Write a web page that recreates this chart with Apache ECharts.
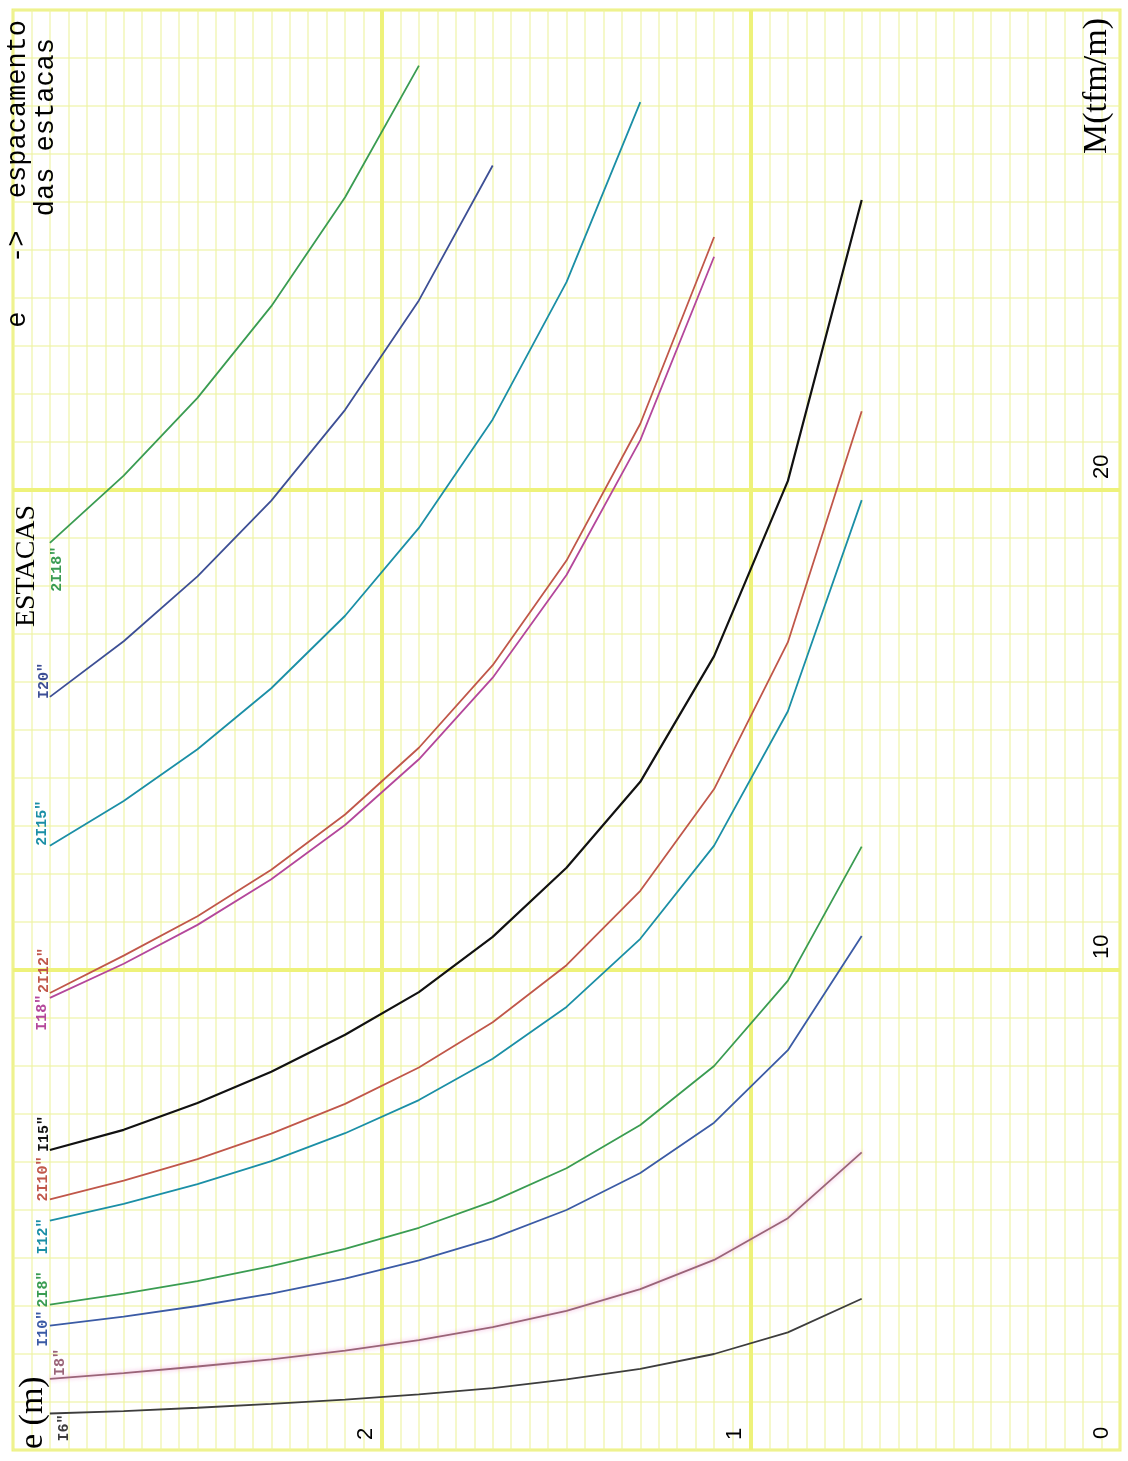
<!DOCTYPE html>
<html><head><meta charset="utf-8">
<script src="https://cdn.jsdelivr.net/npm/echarts/dist/echarts.min.js"></script>
<style>html,body{margin:0;padding:0;background:#fff}#c{width:1128px;height:1461px}</style>
</head><body><div id="c"></div><script>
// spacing e (m) at the polyline vertices
const eValues = [2.9, 2.7, 2.5, 2.3, 2.1, 1.9, 1.7, 1.5, 1.3, 1.1, 0.9, 0.7];
const seriesNames = ['I6"', 'I8"', 'I10"', '2I8"', 'I12"', '2I10"', 'I15"', 'I18"', '2I12"', '2I15"', 'I20"', '2I18"'];
// M (tfm/m) at each vertex
const m_I6   = [0.76, 0.81, 0.88, 0.96, 1.05, 1.16, 1.29, 1.47, 1.69, 2.0, 2.45, 3.15];
const m_I8   = [1.48, 1.6, 1.74, 1.89, 2.07, 2.29, 2.56, 2.9, 3.35, 3.96, 4.83, 6.2];
const m_I10  = [2.59, 2.78, 3.0, 3.26, 3.57, 3.95, 4.41, 5.0, 5.77, 6.82, 8.33, 10.71];
const m_2I8  = [3.03, 3.26, 3.52, 3.83, 4.19, 4.63, 5.18, 5.87, 6.77, 8.0, 9.78, 12.57];
const m_I12  = [4.78, 5.13, 5.54, 6.02, 6.6, 7.29, 8.15, 9.23, 10.65, 12.59, 15.39, 19.79];
const m_2I10 = [5.22, 5.61, 6.06, 6.59, 7.21, 7.97, 8.91, 10.1, 11.65, 13.77, 16.83, 21.64];
const m_I15  = [6.25, 6.67, 7.23, 7.88, 8.65, 9.54, 10.69, 12.13, 13.92, 16.54, 20.19, 26.04];
const m_I18  = [9.42, 10.13, 10.94, 11.89, 13.02, 14.39, 16.09, 18.23, 21.04, 24.86];
const m_2I12 = [9.52, 10.3, 11.12, 12.09, 13.24, 14.63, 16.35, 18.53, 21.38, 25.27];
const m_2I15 = [12.59, 13.52, 14.6, 15.87, 17.38, 19.21, 21.47, 24.33, 28.08];
const m_I20  = [15.69, 16.85, 18.2, 19.78, 21.67, 23.95, 26.76];
const m_2I18 = [18.9, 20.3, 21.92, 23.83, 26.1, 28.84];
const mSeries = [m_I6, m_I8, m_I10, m_2I8, m_I12, m_2I10, m_I15, m_I18, m_2I12, m_2I15, m_I20, m_2I18];
const eTickLabels = [1, 2];
const mTickLabels = [0, 10, 20];
const majorE = [1, 2];
const majorM = [10, 20];

// styles
const colors = ['#3d3d3d', '#9a6478', '#3b5ba5', '#3a9c52', '#1b8fa6', '#c0574a', '#111111', '#b4479b', '#c0574a', '#1b8fa6', '#3d4f95', '#3a9c52'];
const labelPlace = [
  {dx: 14, dy: 1, align: 'right'},
  {dx: 10, dy: -3, align: 'left'},
  {dx: -7, dy: 21, align: 'left'},
  {dx: -7, dy: 3, align: 'left'},
  {dx: -7, dy: -2, align: 'right'},
  {dx: -7, dy: 2, align: 'left'},
  {dx: -6, dy: 2, align: 'left'},
  {dx: -8, dy: -3, align: 'right'},
  {dx: -6, dy: 0, align: 'left'},
  {dx: -8, dy: 0, align: 'left'},
  {dx: -6, dy: 2, align: 'left'},
  {dx: 7, dy: 4, align: 'right'}
];
const minorColor = 'rgba(238,243,160,0.75)';
const majorColor = '#eef27a';

const chart = echarts.init(document.getElementById('c'), null, {renderer: 'canvas'});

const curveSeries = mSeries.map((arr, i) => ({
  name: seriesNames[i],
  type: 'line',
  data: arr.map((m, k) => [eValues[k], m]),
  showSymbol: false,
  symbol: 'none',
  smooth: false,
  z: 5,
  lineStyle: Object.assign({color: colors[i], width: i === 6 ? 2.2 : 1.8},
    i === 1 ? {shadowColor: 'rgba(240,160,210,0.9)', shadowBlur: 4} : {}),
  emphasis: {disabled: true}
}));

const option = {
  animation: false,
  backgroundColor: '#ffffff',
  grid: {left: 13, right: 8, top: 10, bottom: 11, show: true, borderColor: majorColor, borderWidth: 3, backgroundColor: 'transparent'},
  xAxis: {
    type: 'value', min: 0, max: 3, interval: 0.05, inverse: true, position: 'bottom',
    axisLine: {show: false}, axisTick: {show: false},
    splitLine: {show: true, lineStyle: {color: minorColor, width: 1.5}},
    axisLabel: {
      inside: true, rotate: 90, margin: 10, align: 'left', verticalAlign: 'bottom', padding: [0, 0, 5, 0],
      fontSize: 22, fontFamily: 'Liberation Sans', color: '#000',
      formatter: v => eTickLabels.some(t => Math.abs(t - v) < 1e-6) ? String(Math.round(v)) : ''
    }
  },
  yAxis: {
    type: 'value', min: 0, max: 30, interval: 1, position: 'right',
    axisLine: {show: false}, axisTick: {show: false},
    splitLine: {show: true, lineStyle: {color: minorColor, width: 1.5}},
    axisLabel: {
      inside: true, rotate: 90, margin: 18, align: 'left', verticalAlign: 'middle', padding: [0, 0, 0, 11],
      fontSize: 22, fontFamily: 'Liberation Sans', color: '#000', showMaxLabel: false,
      formatter: v => mTickLabels.some(t => Math.abs(t - v) < 1e-6) ? String(Math.round(v)) : ''
    }
  },
  series: [{
    type: 'line', data: [], z: 2, silent: true,
    markLine: {
      silent: true, symbol: ['none', 'none'], label: {show: false},
      lineStyle: {color: majorColor, width: 4, type: 'solid'},
      emphasis: {disabled: true},
      data: majorE.map(v => ({xAxis: v})).concat(majorM.map(v => ({yAxis: v})))
    }
  }].concat(curveSeries)
};
chart.setOption(option);

const graphics = [];
mSeries.forEach((arr, i) => {
  const p = chart.convertToPixel({gridIndex: 0}, [eValues[0], arr[0]]);
  const lp = labelPlace[i];
  graphics.push({
    type: 'text', x: p[0] + lp.dx, y: p[1] + lp.dy, rotation: Math.PI / 2, z: 10,
    style: {text: seriesNames[i], fill: colors[i], font: 'bold 15px "Liberation Mono"', align: lp.align, verticalAlign: 'middle'}
  });
});
const textBlocks = [
  {text: 'e   ->  espacamento', x: 18, y: 20, align: 'right', font: '27px "Liberation Mono"'},
  {text: 'das estacas', x: 46, y: 38, align: 'right', font: '27px "Liberation Mono"'},
  {text: 'M(tfm/m)', x: 1097, y: 18, align: 'right', font: '34px "Liberation Serif"'},
  {text: 'e (m)', x: 33, y: 1449, align: 'left', font: '34px "Liberation Serif"'},
  {text: 'ESTACAS', x: 27, y: 566, align: 'center', font: '28px "Liberation Serif"'}
];
textBlocks.forEach(t => graphics.push({
  type: 'text', x: t.x, y: t.y, rotation: Math.PI / 2, z: 10,
  style: {text: t.text, fill: '#000', font: t.font, align: t.align, verticalAlign: 'middle'}
}));
chart.setOption({graphic: graphics});
</script></body></html>
